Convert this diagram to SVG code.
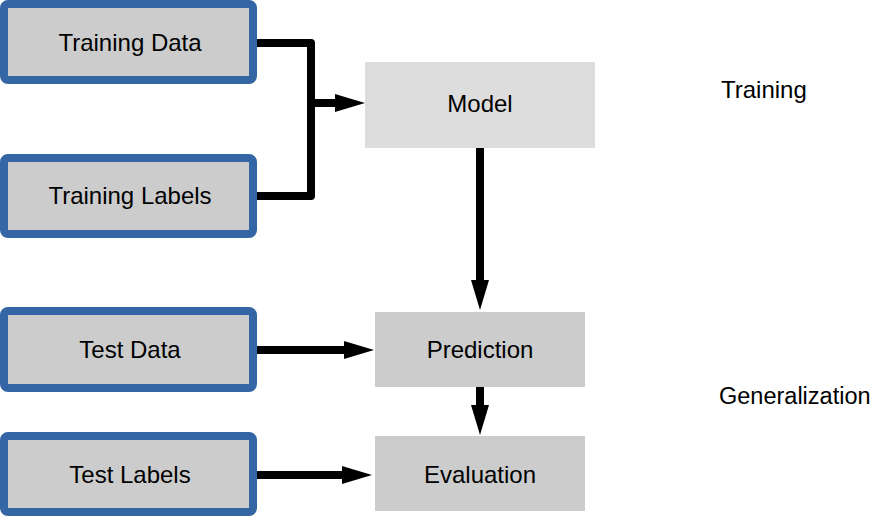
<svg xmlns="http://www.w3.org/2000/svg" width="874" height="516" viewBox="0 0 874 516">
  <style>
    .in { fill: #cccccc; stroke: #3465a4; stroke-width: 8; }
    .proc { fill: #cccccc; }
    .model { fill: #dddddd; }
    text { font-family: "Liberation Sans", Arial, sans-serif; font-size: 24px; fill: #000; }
    .c { text-anchor: middle; }
    .conn { fill: none; stroke: #000; stroke-width: 8; stroke-linejoin: round; }
  </style>
  <defs>
    <marker id="arrow" markerUnits="userSpaceOnUse" markerWidth="30" markerHeight="18" refX="15" refY="9" orient="auto">
      <path d="M0,0 L30,9 L0,18 z" fill="#000"/>
    </marker>
  </defs>
  <rect width="874" height="516" fill="#fff"/>
  <g id="connectors">
    <path class="conn" d="M253,43 H311 V196 H253"/>
    <path class="conn" d="M311,103 H350" marker-end="url(#arrow)"/>
    <path class="conn" d="M480,148 V295" marker-end="url(#arrow)"/>
    <path class="conn" d="M253,350 H359" marker-end="url(#arrow)"/>
    <path class="conn" d="M253,475 H357" marker-end="url(#arrow)"/>
    <path class="conn" d="M480,387 V420" marker-end="url(#arrow)"/>
  </g>
  <g id="training-data">
    <rect class="in" x="4" y="4" width="249" height="76" rx="4"/>
    <text class="c" x="130" y="51">Training Data</text>
  </g>
  <g id="training-labels">
    <rect class="in" x="4" y="158" width="249" height="76" rx="4"/>
    <text class="c" x="130" y="204">Training Labels</text>
  </g>
  <g id="test-data">
    <rect class="in" x="4" y="311" width="249" height="77" rx="4"/>
    <text class="c" x="130" y="358">Test Data</text>
  </g>
  <g id="test-labels">
    <rect class="in" x="4" y="436" width="249" height="76" rx="4"/>
    <text class="c" x="130" y="483">Test Labels</text>
  </g>
  <g id="model">
    <rect class="model" x="365" y="62" width="230" height="86"/>
    <text class="c" x="480" y="112">Model</text>
  </g>
  <g id="prediction">
    <rect class="proc" x="375" y="312" width="210" height="75"/>
    <text class="c" x="480" y="358">Prediction</text>
  </g>
  <g id="evaluation">
    <rect class="proc" x="375" y="436" width="210" height="75"/>
    <text class="c" x="480" y="483">Evaluation</text>
  </g>
  <g id="label-training">
    <text x="721" y="98">Training</text>
  </g>
  <g id="label-generalization">
    <text x="719" y="404" style="font-size:23.5px">Generalization</text>
  </g>
</svg>
